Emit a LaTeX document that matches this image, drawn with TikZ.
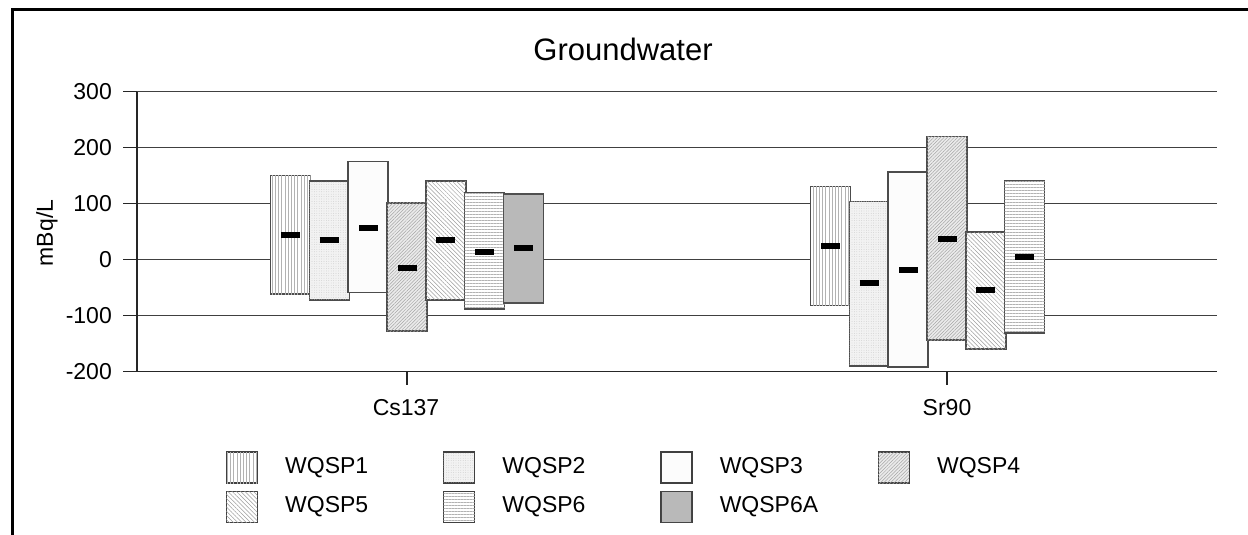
\documentclass[tikz,border=0pt]{standalone}
\usepackage{fontspec}
\setmainfont{Liberation Sans}
\usetikzlibrary{positioning, patterns.meta}
\tikzstyle{gridline} = [draw=black!75, line width=1.6pt]
\tikzstyle{axisline} = [draw=black!85, line width=1.3pt]
\tikzstyle{barframe} = [draw=black!70, line width=1.5pt]
\tikzstyle{meanmark} = [rectangle, fill=black, minimum width=19pt, minimum height=6pt, inner sep=0pt]
\tikzstyle{ticklab} = [anchor=east, inner sep=0pt]
\tikzstyle{legbox} = [rectangle, draw=black!75, line width=1.3pt, minimum size=31pt, inner sep=0pt]
\tikzstyle{legtext} = [inner sep=0pt]
\tikzstyle{wqspa} = [fill=white, postaction={pattern={Lines[angle=90, distance=3.2pt, line width=0.5pt]}, pattern color=black!30}]
\tikzstyle{wqspb} = [fill=black!5, postaction={pattern={Dots[distance=2.4pt, radius=0.4pt]}, pattern color=black!22}]
\tikzstyle{wqspc} = [fill=black!1]
\tikzstyle{wqspd} = [fill=black!8, postaction={pattern={Lines[angle=45, distance=2.4pt, line width=0.5pt]}, pattern color=black!35}]
\tikzstyle{wqspe} = [fill=white, postaction={pattern={Lines[angle=-45, distance=3pt, line width=0.5pt]}, pattern color=black!38}]
\tikzstyle{wqspf} = [fill=white, postaction={pattern={Lines[angle=0, distance=3pt, line width=0.5pt]}, pattern color=black!30}]
\tikzstyle{wqspg} = [fill=black!25, postaction={pattern={Dots[distance=2pt, radius=0.45pt]}, pattern color=black!50}]

\begin{document}
\begin{tikzpicture}[x=1pt, y=-1pt, font=\fontsize{23}{27}\selectfont]
\useasboundingbox (0,0) rectangle (1248,535);
\draw[line width=3pt] (12,535) -- (12,10) -- (1248,10);
\node (title) [font=\fontsize{31}{37}\selectfont] at (623,49) {Groundwater};
\node (unit) [rotate=90, inner sep=0pt] at (47,233) {mBq/L};

\begin{scope}[shift={(0,259.5)}, y=0.56pt]
% grid and axes
\draw[gridline] (137,300) -- (1217,300);
\draw[gridline] (137,200) -- (1217,200);
\draw[gridline] (137,100) -- (1217,100);
\draw[gridline] (137,0) -- (1217,0);
\draw[gridline] (137,-100) -- (1217,-100);
\draw[axisline] (137,-200) -- (1217,-200);
\draw[axisline] (137,-200) -- (137,300);
\draw[axisline] (123,300) -- (137,300);
\draw[axisline] (123,200) -- (137,200);
\draw[axisline] (123,100) -- (137,100);
\draw[axisline] (123,0) -- (137,0);
\draw[axisline] (123,-100) -- (137,-100);
\draw[axisline] (123,-200) -- (137,-200);
\draw[axisline] (407,-200) -- (407,-223.5);
\draw[axisline] (947,-200) -- (947,-223.5);

\node (y300) [ticklab] at (112,300) {300};
\node (y200) [ticklab] at (112,200) {200};
\node (y100) [ticklab] at (112,100) {100};
\node (y0) [ticklab] at (112,0) {0};
\node (ym100) [ticklab] at (112,-100) {-100};
\node (ym200) [ticklab] at (112,-200) {-200};

\node (cs) at (406,-265) {Cs137};
\node (sr) at (947,-265) {Sr90};

% Cs137
\draw[barframe, wqspa] (270.7,-62) rectangle (310.7,150);
\draw[barframe, wqspb] (309.5,-72) rectangle (349.5,140);
\draw[barframe, wqspc] (348.2,-59) rectangle (388.2,175);
\draw[barframe, wqspd] (387.0,-128) rectangle (427.0,101);
\draw[barframe, wqspe] (425.8,-72) rectangle (465.8,140);
\draw[barframe, wqspf] (464.5,-88) rectangle (504.5,120);
\draw[barframe, wqspg] (503.3,-78) rectangle (543.3,117);
\node (cs1) [meanmark] at (290.7,44) {};
\node (cs2) [meanmark] at (329.5,34) {};
\node (cs3) [meanmark] at (368.2,56) {};
\node (cs4) [meanmark] at (407.0,-15) {};
\node (cs5) [meanmark] at (445.8,34) {};
\node (cs6) [meanmark] at (484.5,14) {};
\node (cs6a) [meanmark] at (523.3,21) {};

% Sr90
\draw[barframe, wqspa] (810.7,-82) rectangle (850.7,130);
\draw[barframe, wqspb] (849.5,-190) rectangle (889.5,104);
\draw[barframe, wqspc] (888.2,-192) rectangle (928.2,156);
\draw[barframe, wqspd] (927.0,-144) rectangle (967.0,220);
\draw[barframe, wqspe] (965.8,-160) rectangle (1005.8,49);
\draw[barframe, wqspf] (1004.5,-131) rectangle (1044.5,140);
\node (sr1) [meanmark] at (830.7,24) {};
\node (sr2) [meanmark] at (869.5,-42) {};
\node (sr3) [meanmark] at (908.2,-19) {};
\node (sr4) [meanmark] at (947.0,37) {};
\node (sr5) [meanmark] at (985.8,-54) {};
\node (sr6) [meanmark] at (1024.5,4) {};
\end{scope}

% legend
\node (box1) [legbox, wqspa] at (241.8,467.5) {};
\node (box2) [legbox, wqspb, right=185pt of box1] {};
\node (box3) [legbox, wqspc, right=185pt of box2] {};
\node (box4) [legbox, wqspd, right=185pt of box3] {};
\node (box5) [legbox, wqspe, below=7pt of box1] {};
\node (box6) [legbox, wqspf, below=7pt of box2] {};
\node (box7) [legbox, wqspg, below=7pt of box3] {};
\node (txt1) [legtext, right=27pt of box1] {WQSP1};
\node (txt2) [legtext, right=27pt of box2] {WQSP2};
\node (txt3) [legtext, right=27pt of box3] {WQSP3};
\node (txt4) [legtext, right=27pt of box4] {WQSP4};
\node (txt5) [legtext, right=27pt of box5] {WQSP5};
\node (txt6) [legtext, right=27pt of box6] {WQSP6};
\node (txt7) [legtext, right=27pt of box7] {WQSP6A};
\end{tikzpicture}
\end{document}
